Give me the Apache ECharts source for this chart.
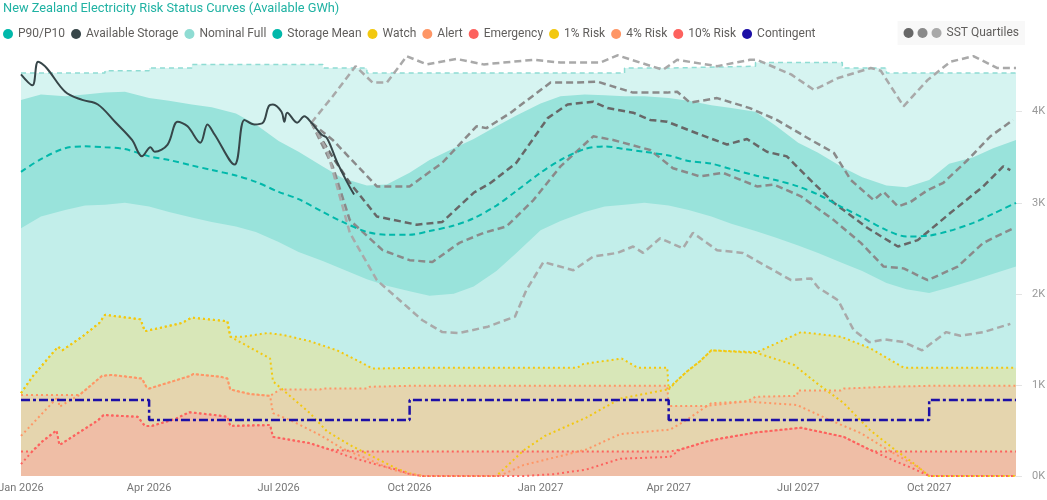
<!DOCTYPE html>
<html style="height: 100%">
<head>
  <meta charset="UTF-8" />
  <title>Risk Status Curves</title>
  <script src="https://cdn.jsdelivr.net/npm/echarts@6/dist/echarts.min.js"></script>
  <script>
    // half-monthly grid for the hydro band and mean
    const bandDates = ['2026-01-01', '2026-01-15', '2026-02-01', '2026-02-15', '2026-03-01', '2026-03-15',
      '2026-04-01', '2026-04-15', '2026-05-01', '2026-05-15', '2026-06-01', '2026-06-15', '2026-07-01',
      '2026-07-15', '2026-08-01', '2026-08-15', '2026-09-01', '2026-09-15', '2026-10-01', '2026-10-15',
      '2026-11-01', '2026-11-15', '2026-12-01', '2026-12-15', '2027-01-01', '2027-01-15', '2027-02-01',
      '2027-02-15', '2027-03-01', '2027-03-15', '2027-04-01', '2027-04-15', '2027-05-01', '2027-05-15',
      '2027-06-01', '2027-06-15', '2027-07-01', '2027-07-15', '2027-08-01', '2027-08-15', '2027-09-01',
      '2027-09-15', '2027-10-01', '2027-10-15', '2027-11-01', '2027-11-15', '2027-12-01'];
    const p10Values = [4130, 4190, 4170, 4190, 4210, 4220, 4150, 4120, 4080, 4050, 3980, 3860, 3680, 3560,
      3400, 3270, 3190, 3200, 3330, 3470, 3600, 3700, 3840, 3960, 4090, 4170, 4190, 4180, 4170, 4170, 4150,
      4120, 4070, 4040, 4000, 3850, 3660, 3550, 3390, 3280, 3190, 3170, 3250, 3430, 3500, 3600, 3690];
    const p90Values = [2720, 2850, 2920, 2970, 2980, 3000, 2960, 2900, 2840, 2790, 2740, 2680, 2570, 2460,
      2360, 2270, 2160, 2090, 2030, 1980, 2000, 2080, 2250, 2450, 2700, 2800, 2900, 2960, 2980, 3000, 2970,
      2920, 2850, 2770, 2690, 2620, 2530, 2450, 2340, 2250, 2120, 2050, 2010, 2070, 2150, 2220, 2300];
    const meanValues = [3340, 3480, 3600, 3620, 3610, 3590, 3510, 3470, 3410, 3360, 3300, 3230, 3120, 3040,
      2900, 2790, 2680, 2650, 2650, 2690, 2750, 2830, 2970, 3130, 3330, 3470, 3590, 3620, 3590, 3560, 3520,
      3460, 3430, 3370, 3300, 3250, 3180, 3090, 2950, 2840, 2700, 2630, 2640, 2690, 2780, 2880, 3000];

    const nominalFull = [['2026-01-01', 4425], ['2026-03-01', 4450], ['2026-04-01', 4480], ['2026-05-01', 4520],
      ['2026-08-01', 4480], ['2026-09-01', 4425], ['2027-03-01', 4480], ['2027-04-01', 4500],
      ['2027-06-01', 4540], ['2027-08-01', 4480], ['2027-09-01', 4425], ['2027-12-01', 4425]];

    const availableStorage = [['2026-01-01', 4410], ['2026-01-09', 4290], ['2026-01-13', 4550], ['2026-01-19', 4480],
      ['2026-02-01', 4220], ['2026-02-13', 4130], ['2026-02-24', 4080], ['2026-03-08', 3890], ['2026-03-20', 3690],
      ['2026-03-27', 3510], ['2026-04-02', 3610], ['2026-04-05', 3560], ['2026-04-14', 3640], ['2026-04-21', 3890],
      ['2026-04-28', 3840], ['2026-05-07', 3660], ['2026-05-12', 3860], ['2026-05-17', 3750], ['2026-05-31', 3420],
      ['2026-06-07', 3910], ['2026-06-14', 3860], ['2026-06-20', 3880], ['2026-06-24', 4060], ['2026-06-27', 4080],
      ['2026-07-03', 4000], ['2026-07-05', 3890], ['2026-07-07', 3990], ['2026-07-14', 3880], ['2026-07-19', 3950],
      ['2026-07-24', 3880], ['2026-07-31', 3750], ['2026-08-04', 3710], ['2026-08-11', 3450], ['2026-08-18', 3230],
      ['2026-08-23', 3090]];

    const sstMax = [['2026-07-24', 3880], ['2026-08-08', 4170], ['2026-08-24', 4500], ['2026-09-05', 4320],
      ['2026-09-15', 4320], ['2026-09-29', 4610], ['2026-10-13', 4520], ['2026-11-03', 4580], ['2026-11-22', 4520],
      ['2026-12-27', 4570], ['2027-01-15', 4540], ['2027-02-12', 4540], ['2027-02-24', 4620], ['2027-03-28', 4460],
      ['2027-04-07', 4570], ['2027-05-05', 4500], ['2027-05-28', 4570], ['2027-06-02', 4570], ['2027-06-26', 4410],
      ['2027-07-12', 4240], ['2027-07-29', 4370], ['2027-08-21', 4480], ['2027-08-28', 4450], ['2027-09-13', 4060],
      ['2027-09-30', 4350], ['2027-10-16', 4550], ['2027-11-01', 4610], ['2027-11-18', 4480], ['2027-12-01', 4480]];
    const sstUpper = [['2026-07-24', 3880], ['2026-08-08', 3690], ['2026-09-08', 3180], ['2026-10-01', 3180],
      ['2026-10-24', 3440], ['2026-11-17', 3840], ['2026-11-24', 3820], ['2026-12-11', 3990], ['2027-01-08', 4320],
      ['2027-01-24', 4320], ['2027-02-10', 4330], ['2027-03-07', 4210], ['2027-03-31', 4210], ['2027-04-07', 4220],
      ['2027-04-16', 4100], ['2027-05-05', 4150], ['2027-05-28', 4040], ['2027-06-16', 3910], ['2027-07-10', 3690],
      ['2027-07-26', 3550], ['2027-08-07', 3250], ['2027-08-23', 3030], ['2027-08-30', 3120], ['2027-09-09', 2960],
      ['2027-09-18', 3010], ['2027-09-30', 3140], ['2027-10-11', 3220], ['2027-10-28', 3470], ['2027-11-13', 3730],
      ['2027-11-29', 3910]];
    const sstMedian = [['2026-07-24', 3880], ['2026-08-08', 3500], ['2026-08-20', 3220], ['2026-09-08', 2850],
      ['2026-10-06', 2760], ['2026-10-24', 2790], ['2026-11-15', 3110], ['2026-11-27', 3220], ['2026-12-15', 3440],
      ['2027-01-06', 3930], ['2027-01-20', 4080], ['2027-02-07', 4110], ['2027-02-17', 4040], ['2027-03-07', 3990],
      ['2027-03-19', 3910], ['2027-03-31', 3890], ['2027-04-23', 3750], ['2027-05-12', 3640], ['2027-05-26', 3700],
      ['2027-06-09', 3560], ['2027-06-23', 3510], ['2027-07-07', 3290], ['2027-07-26', 3000], ['2027-08-19', 2720],
      ['2027-09-09', 2520], ['2027-09-23', 2590], ['2027-10-16', 2890], ['2027-11-08', 3180], ['2027-11-22', 3400],
      ['2027-11-27', 3360]];
    const sstLower = [['2026-07-24', 3880], ['2026-08-08', 3400], ['2026-08-20', 2810], ['2026-09-12', 2480],
      ['2026-10-01', 2370], ['2026-10-17', 2350], ['2026-11-05', 2560], ['2026-11-22', 2670], ['2026-12-08', 2740],
      ['2026-12-27', 3030], ['2027-01-15', 3400], ['2027-02-07', 3730], ['2027-02-21', 3690], ['2027-03-19', 3580],
      ['2027-04-04', 3380], ['2027-04-23', 3290], ['2027-05-09', 3330], ['2027-06-02', 3180], ['2027-06-14', 3200],
      ['2027-07-03', 3070], ['2027-07-26', 2810], ['2027-08-14', 2560], ['2027-08-30', 2300], ['2027-09-13', 2280],
      ['2027-09-30', 2150], ['2027-10-21', 2300], ['2027-11-08', 2560], ['2027-11-29', 2720]];
    const sstMin = [['2026-07-24', 3880], ['2026-08-04', 3580], ['2026-08-20', 2670], ['2026-09-08', 2150],
      ['2026-09-24', 1930], ['2026-10-10', 1710], ['2026-10-24', 1580], ['2026-11-05', 1570], ['2026-11-25', 1640],
      ['2026-12-14', 1750], ['2026-12-22', 2040], ['2027-01-03', 2350], ['2027-01-24', 2260], ['2027-02-07', 2410],
      ['2027-02-24', 2450], ['2027-03-07', 2520], ['2027-03-14', 2450], ['2027-03-26', 2610], ['2027-04-11', 2500],
      ['2027-04-18', 2670], ['2027-05-05', 2480], ['2027-05-23', 2450], ['2027-06-09', 2300], ['2027-06-26', 2150],
      ['2027-07-10', 2170], ['2027-07-15', 2070], ['2027-07-29', 1930], ['2027-08-09', 1600], ['2027-08-20', 1470],
      ['2027-08-31', 1500], ['2027-09-13', 1470], ['2027-09-26', 1380], ['2027-10-13', 1580], ['2027-10-23', 1540],
      ['2027-11-08', 1580], ['2027-11-27', 1670]];

    const watch = [['2026-01-01', 910], ['2026-01-09', 1090], ['2026-01-27', 1420], ['2026-01-30', 1380],
      ['2026-02-13', 1530], ['2026-02-25', 1680], ['2026-03-01', 1770], ['2026-03-26', 1720], ['2026-03-29', 1590],
      ['2026-04-24', 1680], ['2026-05-01', 1740], ['2026-05-26', 1700], ['2026-05-28', 1530], ['2026-06-06', 1530],
      ['2026-06-23', 1570], ['2026-07-04', 1550], ['2026-07-23', 1480], ['2026-08-11', 1380], ['2026-08-25', 1270],
      ['2026-09-05', 1180], ['2026-10-15', 1190], ['2027-01-27', 1190], ['2027-01-31', 1230], ['2027-02-27', 1290],
      ['2027-03-10', 1190], ['2027-03-31', 1190], ['2027-04-01', 950], ['2027-04-07', 1050], ['2027-04-14', 1150],
      ['2027-04-23', 1260], ['2027-05-01', 1380], ['2027-06-02', 1360], ['2027-07-03', 1580], ['2027-07-31', 1530],
      ['2027-08-21', 1400], ['2027-09-13', 1190], ['2027-12-01', 1190]];
    const alert = [['2026-01-01', 890], ['2026-02-11', 890], ['2026-02-27', 1100], ['2026-03-06', 1110],
      ['2026-03-27', 1070], ['2026-03-30', 980], ['2026-04-01', 960], ['2026-04-30', 1100], ['2026-05-02', 1120],
      ['2026-05-21', 1090], ['2026-05-26', 1070], ['2026-05-28', 950], ['2026-06-11', 900], ['2026-06-25', 880],
      ['2026-07-02', 950], ['2026-07-30', 950], ['2026-08-01', 960], ['2026-09-01', 960], ['2026-09-03', 980],
      ['2026-10-01', 990], ['2027-03-31', 990], ['2027-04-01', 770], ['2027-04-28', 770], ['2027-05-01', 800],
      ['2027-05-26', 820], ['2027-06-01', 870], ['2027-06-30', 880], ['2027-07-01', 940], ['2027-07-31', 940],
      ['2027-08-02', 960], ['2027-09-02', 980], ['2027-10-01', 990], ['2027-12-01', 990]];
    const emergency = [['2026-01-01', 270], ['2026-01-09', 270], ['2026-01-16', 380], ['2026-01-26', 500],
      ['2026-01-28', 340], ['2026-02-02', 390], ['2026-02-15', 520], ['2026-02-24', 610], ['2026-02-28', 670],
      ['2026-03-24', 650], ['2026-03-29', 550], ['2026-04-03', 550], ['2026-04-20', 630], ['2026-04-29', 700],
      ['2026-05-17', 670], ['2026-05-26', 650], ['2026-05-28', 550], ['2026-06-25', 560], ['2026-06-27', 430],
      ['2026-07-23', 360], ['2026-08-06', 290], ['2026-08-25', 270], ['2027-04-02', 270], ['2027-04-09', 290],
      ['2027-04-28', 380], ['2027-05-07', 410], ['2027-06-02', 480], ['2027-07-03', 530], ['2027-08-02', 430],
      ['2027-08-20', 290], ['2027-08-24', 270], ['2027-12-01', 270]];

    const risk1 = [['2026-01-01', 910], ['2026-01-09', 1090], ['2026-01-27', 1420], ['2026-01-30', 1380],
      ['2026-02-13', 1530], ['2026-02-25', 1680], ['2026-03-01', 1770], ['2026-03-26', 1720], ['2026-03-29', 1590],
      ['2026-04-24', 1680], ['2026-05-01', 1740], ['2026-05-26', 1700], ['2026-05-28', 1530], ['2026-06-25', 1290],
      ['2026-06-27', 1040], ['2026-07-03', 960], ['2026-07-23', 690], ['2026-08-04', 490], ['2026-08-20', 340],
      ['2026-09-03', 230], ['2026-09-22', 80], ['2026-10-01', 30], ['2026-10-10', 0], ['2026-12-01', 0],
      ['2026-12-20', 280], ['2027-01-04', 440], ['2027-02-02', 640], ['2027-02-26', 850], ['2027-03-31', 950],
      ['2027-04-07', 1050], ['2027-04-14', 1150], ['2027-04-23', 1260], ['2027-05-01', 1380], ['2027-06-02', 1350],
      ['2027-06-28', 1220], ['2027-07-14', 1020], ['2027-08-02', 800], ['2027-08-20', 510], ['2027-09-06', 300],
      ['2027-09-20', 140], ['2027-10-01', 0], ['2027-12-01', 0]];
    const risk4 = [['2026-01-01', 440], ['2026-01-27', 870], ['2026-01-28', 760], ['2026-02-11', 890],
      ['2026-02-27', 1100], ['2026-03-06', 1110], ['2026-03-27', 1070], ['2026-03-30', 980], ['2026-04-01', 960],
      ['2026-04-30', 1100], ['2026-05-02', 1120], ['2026-05-21', 1090], ['2026-05-26', 1070], ['2026-05-28', 950],
      ['2026-06-11', 900], ['2026-06-25', 880], ['2026-06-27', 690], ['2026-07-11', 600], ['2026-07-30', 450],
      ['2026-08-15', 300], ['2026-09-01', 190], ['2026-09-17', 80], ['2026-10-01', 20], ['2026-10-10', 0],
      ['2026-12-03', 0], ['2026-12-20', 120], ['2027-01-10', 200], ['2027-02-02', 290], ['2027-02-26', 460],
      ['2027-04-02', 510], ['2027-04-14', 620], ['2027-04-28', 770], ['2027-05-26', 820], ['2027-06-02', 810],
      ['2027-06-30', 780], ['2027-07-21', 630], ['2027-08-14', 470], ['2027-09-06', 250], ['2027-09-23', 100],
      ['2027-10-01', 0], ['2027-12-01', 0]];
    const risk10 = [['2026-01-01', 130], ['2026-01-10', 290], ['2026-01-16', 380], ['2026-01-26', 500],
      ['2026-01-28', 340], ['2026-02-02', 390], ['2026-02-15', 520], ['2026-02-24', 610], ['2026-02-28', 670],
      ['2026-03-24', 650], ['2026-03-29', 550], ['2026-04-03', 550], ['2026-04-20', 630], ['2026-04-29', 700],
      ['2026-05-17', 670], ['2026-05-26', 650], ['2026-05-28', 550], ['2026-06-25', 560], ['2026-06-27', 430],
      ['2026-07-23', 360], ['2026-08-06', 290], ['2026-08-20', 210], ['2026-09-09', 120], ['2026-09-22', 70],
      ['2026-10-01', 20], ['2026-10-10', 0], ['2026-12-20', 0], ['2027-01-10', 20], ['2027-02-02', 70],
      ['2027-02-26', 190], ['2027-04-02', 210], ['2027-04-09', 290], ['2027-04-28', 380], ['2027-05-07', 410],
      ['2027-06-02', 480], ['2027-07-03', 530], ['2027-08-02', 430], ['2027-08-20', 290], ['2027-09-06', 170],
      ['2027-09-20', 80], ['2027-10-01', 0], ['2027-12-01', 0]];

    const contingent = [['2026-01-01', 835], ['2026-04-01', 615], ['2026-10-01', 835], ['2027-04-01', 615],
      ['2027-10-01', 835], ['2027-12-01', 835]];

    const quarterTicks = ['2026-01-01', '2026-04-01', '2026-07-01', '2026-10-01', '2027-01-01', '2027-04-01',
      '2027-07-01', '2027-10-01'];
    const monthNames = ['Jan', 'Feb', 'Mar', 'Apr', 'May', 'Jun', 'Jul', 'Aug', 'Sep', 'Oct', 'Nov', 'Dec'];
    const legendNames = ['P90/P10', 'Available Storage', 'Nominal Full', 'Storage Mean', 'Watch', 'Alert',
      'Emergency', '1% Risk', '4% Risk', '10% Risk', 'Contingent'];
  </script>
</head>

<body style="height: 100%; margin: 0; background: #fff">
  <div id="container" style="width: 1047px; height: 500px"></div>
  <script>
    const FONT = "'Segoe UI', Roboto, sans-serif";
    const DOTS = [2, 3];

    // dates go onto a plain value axis as timestamps
    function ts(d) {
      const p = d.split('-').map(Number);
      return Date.UTC(p[0], p[1] - 1, p[2]);
    }
    function pts(arr) {
      return arr.map(e => [ts(e[0]), e[1]]);
    }
    function zip(dates, vals) {
      return dates.map((d, i) => [ts(d), vals[i]]);
    }

    function line(name, data, color, extra) {
      return Object.assign({
        name: name,
        type: 'line',
        data: data,
        symbol: 'none',
        silent: true,
        itemStyle: { color: color },
        lineStyle: { color: color, width: 2 }
      }, extra || {});
    }

    function riskArea(name, data, color, fill) {
      return line(name, pts(data), color, {
        z: 3,
        lineStyle: { color: color, width: 2, type: DOTS },
        areaStyle: { color: fill, opacity: 1 }
      });
    }

    function riskLine(name, data, color) {
      return line(name, pts(data), color, { z: 4, lineStyle: { color: color, width: 2, type: DOTS } });
    }

    function sst(name, data, color) {
      return line(name, pts(data), color, { z: 6, lineStyle: { color: color, width: 2.5, type: [7, 4] } });
    }

    const chart = echarts.init(document.getElementById('container'), null, { renderer: 'canvas' });

    chart.setOption({
      animation: false,
      title: {
        text: 'New Zealand Electricity Risk Status Curves (Available GWh)',
        left: 0, top: 0, padding: [2, 3],
        textStyle: { color: '#20b2a3', fontSize: 12.8, fontWeight: 'normal', fontFamily: FONT }
      },
      legend: [{
        data: legendNames,
        left: 0, top: 28, padding: [0, 3],
        icon: 'circle', itemWidth: 10, itemHeight: 10, itemGap: 6,
        textStyle: { color: '#605e5c', fontSize: 12, fontFamily: FONT }
      }, {
        data: ['sstDark', 'sstMid', 'SST Quartiles'],
        right: 22, top: 21, padding: [6, 6],
        backgroundColor: '#f8f8f8',
        icon: 'circle', itemWidth: 10, itemHeight: 10, itemGap: 4,
        formatter: n => (n === 'SST Quartiles' ? n : ''),
        textStyle: { color: '#605e5c', fontSize: 12, fontFamily: FONT }
      }],
      grid: { left: 21, right: 31, top: 48, bottom: 24, outerBoundsMode: 'none' },
      xAxis: {
        type: 'value',
        min: ts('2026-01-01'),
        max: ts('2027-12-01'),
        axisLine: { show: false },
        axisTick: { show: false },
        splitLine: { show: false },
        axisLabel: {
          customValues: quarterTicks.map(ts),
          formatter: v => {
            const d = new Date(v);
            return monthNames[d.getUTCMonth()] + ' ' + d.getUTCFullYear();
          },
          color: '#777', fontSize: 11, margin: 7, fontFamily: FONT
        }
      },
      yAxis: {
        type: 'value',
        position: 'right',
        min: 0, max: 4700, interval: 1000,
        splitLine: { show: false },
        axisLine: { show: false },
        axisTick: { show: true, length: 6, lineStyle: { color: '#e4e4e4' } },
        axisLabel: {
          formatter: v => v / 1000 + 'K',
          showMaxLabel: false,
          color: '#999', fontSize: 11, margin: 16, fontFamily: FONT
        }
      },
      series: [
        line('Nominal Full', pts(nominalFull), '#8fdcd3', {
          z: 1, step: 'end',
          lineStyle: { color: '#8fdcd3', width: 1.5, type: [5, 4] },
          areaStyle: { color: '#d6f4f1', opacity: 1 }
        }),
        line('P90/P10', zip(bandDates, p10Values), '#01b8aa', {
          z: 1,
          lineStyle: { width: 0 },
          areaStyle: { color: '#99e3db', opacity: 1 }
        }),
        line('lower', zip(bandDates, p90Values), '#c2eeea', {
          z: 1,
          lineStyle: { width: 0 },
          areaStyle: { color: '#c2eeea', opacity: 1 }
        }),
        riskArea('Watch', watch, '#f2c80f', '#d8e7b8'),
        riskArea('Alert', alert, '#fe9666', '#e5d5ae'),
        riskArea('Emergency', emergency, '#fd625e', '#efbea6'),
        riskLine('1% Risk', risk1, '#f2c80f'),
        riskLine('4% Risk', risk4, '#fe9666'),
        riskLine('10% Risk', risk10, '#fd625e'),
        line('Contingent', pts(contingent), '#1c0fa6', {
          z: 5, step: 'end',
          lineStyle: { color: '#1c0fa6', width: 2.5, type: [9, 3, 3, 3] }
        }),
        sst('SST Quartiles', sstMax, '#a9a9a9'),
        sst('sstMid', sstUpper, '#8a8a8a'),
        sst('sstDark', sstMedian, '#676767'),
        sst('sstMid', sstLower, '#8a8a8a'),
        sst('SST Quartiles', sstMin, '#a9a9a9'),
        line('Storage Mean', zip(bandDates, meanValues), '#01b8aa', {
          z: 7, smooth: 0.3,
          lineStyle: { color: '#01b8aa', width: 2, type: [6, 4] }
        }),
        line('Available Storage', pts(availableStorage), '#374649', {
          z: 8, smooth: 0.35,
          lineStyle: { color: '#374649', width: 2 }
        })
      ]
    });
  </script>
</body>
</html>
